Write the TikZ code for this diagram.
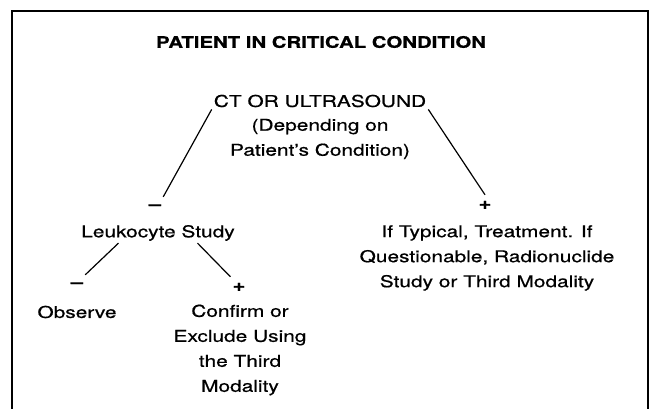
\documentclass[tikz,border=0pt]{standalone}
\usepackage{fontspec}
\setmainfont{TeX Gyre Heros}[FakeStretch=1.28,FakeBold=0.7]
\usetikzlibrary{calc}

\begin{document}
\begin{tikzpicture}[x=1pt,y=-1pt,
    txt/.style={align=center,font=\fontsize{16.3}{25}\selectfont,inner sep=2pt},
    sign/.style={font=\fontsize{17}{25}\selectfont\bfseries,inner sep=2pt,minimum height=20pt},
    link/.style={line width=1.2pt}]
    \useasboundingbox (0,0) rectangle (656,409);
    \draw[line width=2pt] (12,409) -- (12,11) -- (648,11) -- (648,409);
    \node (title) at (321,42) [font=\fontsize{15.9}{25}\selectfont\bfseries] {PATIENT IN CRITICAL CONDITION};
    \node[txt] (ct) at (320,101) {CT OR ULTRASOUND};
    \node[txt] (ctsub) at (320,139) {(Depending on\\Patient's Condition)};
    \node[sign] (neg1) at (155,207) {--};
    \node[sign] (pos1) at (485,205) {+};
    \node[txt] (leuko) at (158,233) {Leukocyte Study};
    \node[txt] (treat) at (487,258) {If Typical, Treatment. If\\Questionable, Radionuclide\\Study or Third Modality};
    \node[sign] (neg2) at (77,285) {--};
    \node[sign] (pos2) at (239,287) {+};
    \node[txt] (observe) at (77,312) {Observe};
    \node[txt] (confirm) at (240,350) {Confirm or\\Exclude Using\\the Third\\Modality};
    % branches
    \draw[link] (ct.south west) -- (neg1.north east);
    \draw[link] (ct.south east) -- (pos1.north);
    \draw[link] ($(leuko.south)!0.5!(leuko.south west)$) -- (neg2.north east);
    \draw[link] ($(leuko.south)!0.5!(leuko.south east)$) -- (pos2.north west);
\end{tikzpicture}
\end{document}
